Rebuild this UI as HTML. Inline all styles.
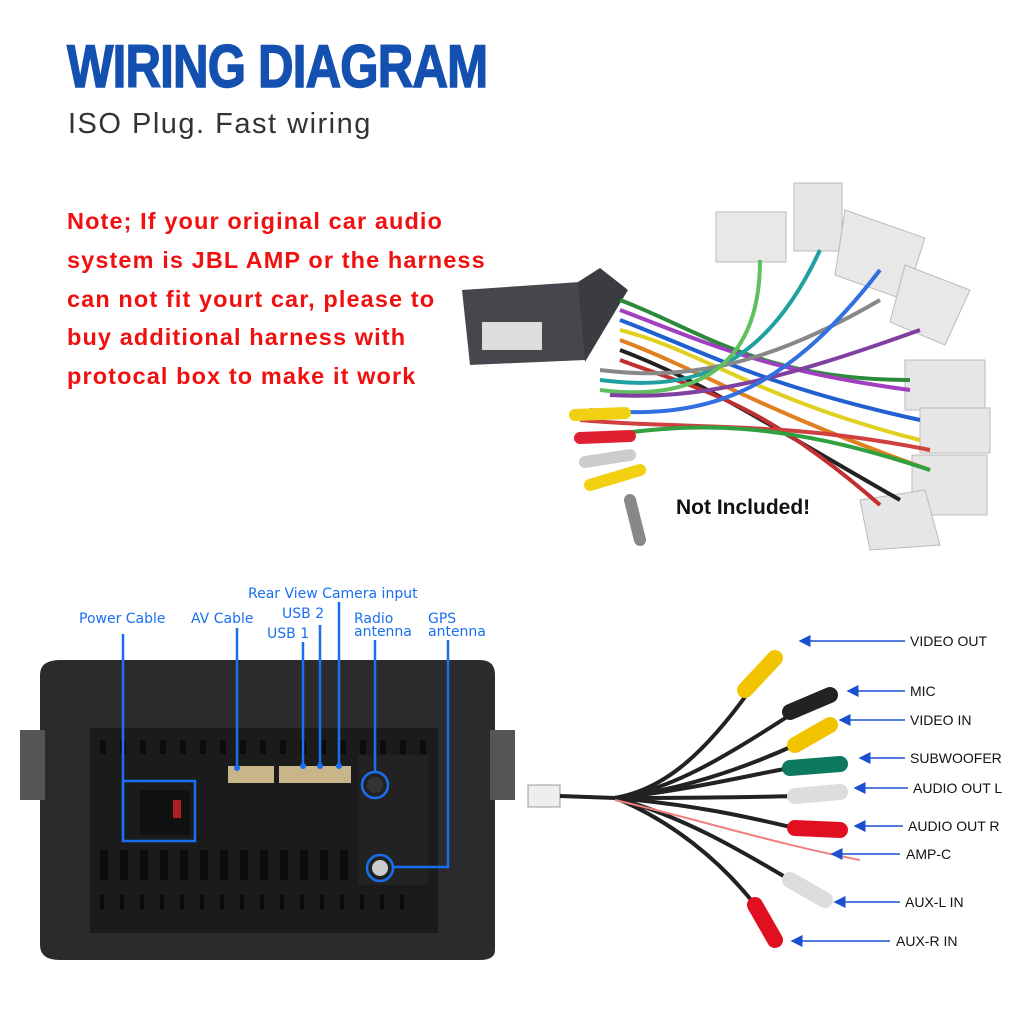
<!DOCTYPE html>
<html><head><meta charset="utf-8"><style>
html,body{margin:0;padding:0;background:#fff}
body{width:1024px;height:1024px;overflow:hidden;position:relative;font-family:"Liberation Sans",sans-serif}
.t{position:absolute;white-space:nowrap}
</style></head><body>
<div class="t" style="left:67px;top:32px;font-size:60px;font-weight:bold;color:#1450b0;letter-spacing:-1px;transform:scaleX(0.82);transform-origin:left;-webkit-text-stroke:1.5px #1450b0">WIRING DIAGRAM</div>
<div class="t" style="left:68px;top:108px;font-size:29px;color:#333;letter-spacing:1.5px">ISO Plug. Fast wiring</div>
<div class="t" style="left:67px;top:202px;font-size:23.5px;font-weight:bold;color:#f01010;line-height:38.8px;letter-spacing:1.1px">Note; If your original car audio<br>system is JBL AMP or the harness<br>can not fit yourt car, please to<br>buy additional harness with<br>protocal box to make it work</div>

<svg width="1024" height="1024" style="position:absolute;left:0;top:0">
<defs><marker id="a" markerWidth="8" markerHeight="8" refX="1" refY="4" orient="auto"><path d="M8,0 L0,4 L8,8Z" fill="#1a50d0"/></marker></defs>
<g>
<polygon points="462,290 580,282 585,360 470,365" fill="#45474c"/>
<polygon points="578,282 600,268 628,290 585,362" fill="#3a3c40"/>
<rect x="482" y="322" width="60" height="28" fill="#ddd"/>
<rect x="716" y="212" width="70" height="50" fill="#e8e8e8" stroke="#bbb"/>
<rect x="794" y="183" width="48" height="68" fill="#e6e6e6" stroke="#bbb"/>
<polygon points="845,210 925,238 905,300 835,275" fill="#e8e8e8" stroke="#bbb"/>
<polygon points="905,265 970,290 945,345 890,322" fill="#e8e8e8" stroke="#bbb"/>
<rect x="905" y="360" width="80" height="50" fill="#e6e6e6" stroke="#bbb"/>
<rect x="920" y="408" width="70" height="45" fill="#e6e6e6" stroke="#bbb"/>
<rect x="912" y="455" width="75" height="60" fill="#e6e6e6" stroke="#bbb"/>
<polygon points="860,500 925,490 940,545 870,550" fill="#e6e6e6" stroke="#bbb"/>
<g fill="none" stroke-width="4">
<path d="M620,300 C700,330 760,380 910,380" stroke="#2a8a3a"/>
<path d="M620,310 C700,340 760,370 910,390" stroke="#a040c0"/>
<path d="M620,320 C700,350 760,385 920,420" stroke="#2060d0"/>
<path d="M620,330 C700,350 760,400 920,440" stroke="#e0d020"/>
<path d="M620,340 C700,370 760,410 930,470" stroke="#e08020"/>
<path d="M620,350 C700,380 760,420 900,500" stroke="#222"/>
<path d="M620,360 C700,390 760,400 880,505" stroke="#c03030"/>
<path d="M600,380 C680,390 760,380 820,250" stroke="#20a0a0"/>
<path d="M600,370 C680,380 760,370 880,300" stroke="#888"/>
<path d="M600,390 C680,400 760,380 760,260" stroke="#60c060"/>
<path d="M610,395 C700,400 780,380 920,330" stroke="#8040a0"/>
<path d="M590,410 C700,420 780,400 880,270" stroke="#3070e0"/>
<path d="M580,420 C690,430 780,420 930,450" stroke="#d04040"/>
<path d="M580,440 C690,420 780,420 930,470" stroke="#30a040"/>
</g>
<g stroke-width="12" stroke-linecap="round">
<line x1="575" y1="415" x2="625" y2="413" stroke="#f0d010"/>
<line x1="580" y1="438" x2="630" y2="436" stroke="#e02030"/>
<line x1="585" y1="462" x2="630" y2="455" stroke="#ccc"/>
<line x1="590" y1="485" x2="640" y2="470" stroke="#f0d010"/>
<line x1="630" y1="500" x2="640" y2="540" stroke="#888"/>
</g>
</g>
<text x="676" y="514" font-size="21" font-weight="bold" fill="#111" font-family="Liberation Sans">Not Included!</text>

<path d="M40,675 Q40,660 60,660 L480,660 Q495,660 495,675 L495,950 Q495,960 480,960 L60,960 Q40,960 40,945Z" fill="#2b2b2d"/>
<rect x="20" y="730" width="25" height="70" fill="#555"/>
<rect x="490" y="730" width="25" height="70" fill="#555"/>
<rect x="90" y="728" width="348" height="205" fill="#1b1b1c"/>
<g fill="#0c0c0c">
<rect x="100" y="740" width="6" height="14"/><rect x="120" y="740" width="6" height="14"/><rect x="140" y="740" width="6" height="14"/><rect x="160" y="740" width="6" height="14"/><rect x="180" y="740" width="6" height="14"/><rect x="200" y="740" width="6" height="14"/><rect x="220" y="740" width="6" height="14"/><rect x="240" y="740" width="6" height="14"/><rect x="260" y="740" width="6" height="14"/><rect x="280" y="740" width="6" height="14"/><rect x="300" y="740" width="6" height="14"/><rect x="320" y="740" width="6" height="14"/><rect x="340" y="740" width="6" height="14"/><rect x="360" y="740" width="6" height="14"/><rect x="380" y="740" width="6" height="14"/><rect x="400" y="740" width="6" height="14"/><rect x="420" y="740" width="6" height="14"/>
<rect x="100" y="895" width="4" height="14"/><rect x="120" y="895" width="4" height="14"/><rect x="140" y="895" width="4" height="14"/><rect x="160" y="895" width="4" height="14"/><rect x="180" y="895" width="4" height="14"/><rect x="200" y="895" width="4" height="14"/><rect x="220" y="895" width="4" height="14"/><rect x="240" y="895" width="4" height="14"/><rect x="260" y="895" width="4" height="14"/><rect x="280" y="895" width="4" height="14"/><rect x="300" y="895" width="4" height="14"/><rect x="320" y="895" width="4" height="14"/><rect x="340" y="895" width="4" height="14"/><rect x="360" y="895" width="4" height="14"/><rect x="380" y="895" width="4" height="14"/><rect x="400" y="895" width="4" height="14"/>
<rect x="100" y="850" width="8" height="30"/><rect x="120" y="850" width="8" height="30"/><rect x="140" y="850" width="8" height="30"/><rect x="160" y="850" width="8" height="30"/><rect x="180" y="850" width="8" height="30"/><rect x="200" y="850" width="8" height="30"/><rect x="220" y="850" width="8" height="30"/><rect x="240" y="850" width="8" height="30"/><rect x="260" y="850" width="8" height="30"/><rect x="280" y="850" width="8" height="30"/><rect x="300" y="850" width="8" height="30"/><rect x="320" y="850" width="8" height="30"/><rect x="340" y="850" width="8" height="30"/>
</g>
<rect x="358" y="755" width="70" height="130" fill="#222"/>
<rect x="228" y="766" width="46" height="17" fill="#c8b58a"/>
<rect x="279" y="766" width="72" height="17" fill="#c8b58a"/>
<rect x="140" y="790" width="50" height="45" fill="#111"/>
<rect x="173" y="800" width="8" height="18" fill="#b02020"/>
<circle cx="375" cy="785" r="8" fill="#333"/>
<circle cx="380" cy="868" r="8" fill="#ccc"/>
<g stroke="#1a6ff0" stroke-width="2.5" fill="none">
<line x1="123" y1="634" x2="123" y2="841"/>
<rect x="123" y="781" width="72" height="60"/>
<line x1="237" y1="628" x2="237" y2="768"/>
<line x1="303" y1="642" x2="303" y2="766"/>
<line x1="320" y1="625" x2="320" y2="766"/>
<line x1="339" y1="602" x2="339" y2="766"/>
<line x1="375" y1="640" x2="375" y2="772"/>
<circle cx="375" cy="785" r="13"/>
<polyline points="448,640 448,867 394,867"/>
<circle cx="380" cy="868" r="13"/>
</g>
<g fill="#1a6ff0"><circle cx="237" cy="768" r="3"/><circle cx="303" cy="766" r="3"/><circle cx="320" cy="766" r="3"/><circle cx="339" cy="766" r="3"/></g>
<g font-size="14" fill="#1a6ff0" font-family="DejaVu Sans">
<text x="79" y="623">Power Cable</text>
<text x="191" y="623">AV Cable</text>
<text x="248" y="598">Rear View Camera input</text>
<text x="282" y="618">USB 2</text>
<text x="267" y="638">USB 1</text>
<text x="354" y="623">Radio</text>
<text x="354" y="636">antenna</text>
<text x="428" y="623">GPS</text>
<text x="428" y="636">antenna</text>
</g>

<rect x="528" y="785" width="32" height="22" fill="#eee" stroke="#999"/>
<g fill="none" stroke="#222" stroke-width="4">
<path d="M560,796 L615,798"/>
<path d="M615,798 C660,790 700,760 750,690"/>
<path d="M615,798 C670,790 720,760 790,715"/>
<path d="M615,798 C680,790 740,770 795,745"/>
<path d="M615,798 C690,790 750,775 790,768"/>
<path d="M615,798 C700,798 760,797 795,796"/>
<path d="M615,798 C700,805 760,820 795,828"/>
<path d="M615,798 C680,815 740,850 790,880"/>
<path d="M615,798 C670,820 720,860 755,905"/>
</g>
<path d="M615,800 C700,820 780,845 860,860" stroke="#f08080" stroke-width="2" fill="none"/>
<g stroke-width="16" stroke-linecap="round">
<line x1="745" y1="690" x2="775" y2="658" stroke="#f2c400"/>
<line x1="790" y1="712" x2="830" y2="695" stroke="#222"/>
<line x1="795" y1="745" x2="830" y2="725" stroke="#f2c400"/>
<line x1="790" y1="768" x2="840" y2="764" stroke="#0d7a60"/>
<line x1="795" y1="796" x2="840" y2="792" stroke="#ddd"/>
<line x1="795" y1="828" x2="840" y2="830" stroke="#e01020"/>
<line x1="790" y1="880" x2="825" y2="900" stroke="#ddd"/>
<line x1="755" y1="905" x2="775" y2="940" stroke="#e01020"/>
</g>
<g stroke="#1a50d0" stroke-width="1.5" marker-start="url(#a)">
<line x1="800" y1="641" x2="905" y2="641"/><line x1="848" y1="691" x2="905" y2="691"/>
<line x1="840" y1="720" x2="905" y2="720"/><line x1="860" y1="758" x2="905" y2="758"/>
<line x1="855" y1="788" x2="908" y2="788"/><line x1="855" y1="826" x2="903" y2="826"/>
<line x1="832" y1="854" x2="900" y2="854"/><line x1="835" y1="902" x2="900" y2="902"/>
<line x1="792" y1="941" x2="890" y2="941"/>
</g>
<g font-size="14" fill="#111" font-family="Liberation Sans">
<text x="910" y="646">VIDEO OUT</text><text x="910" y="696">MIC</text>
<text x="910" y="725">VIDEO IN</text><text x="910" y="763">SUBWOOFER</text>
<text x="913" y="793">AUDIO OUT L</text><text x="908" y="831">AUDIO OUT R</text>
<text x="906" y="859">AMP-C</text><text x="905" y="907">AUX-L IN</text>
<text x="896" y="946">AUX-R IN</text>
</g>
</svg>
</body></html>
